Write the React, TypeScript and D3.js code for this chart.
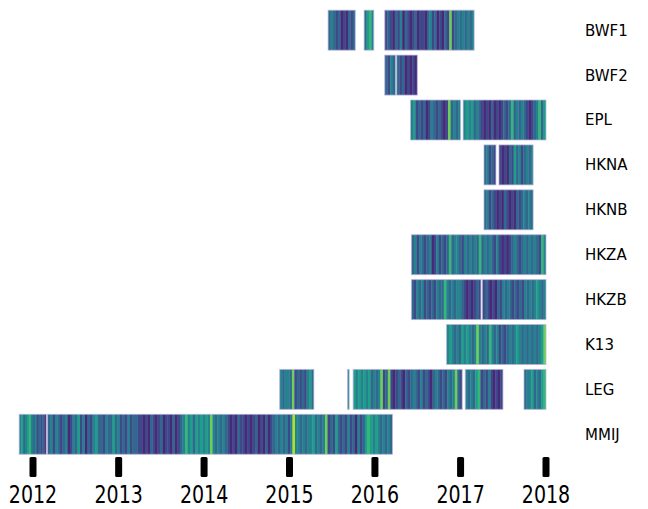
import React from "react";
import * as d3 from "d3";

// Row names (top to bottom)
const ROWS = ["BWF1", "BWF2", "EPL", "HKNA", "HKNB", "HKZA", "HKZB", "K13", "LEG", "MMIJ"];

// Year ticks
const YEARS = [2012, 2013, 2014, 2015, 2016, 2017, 2018];

// Segments per row: [start, end, values (0-9 digits, read left to right)]
const BWF1 = [
  ["2015-06-15", "2015-10-09", "34323121323"],
  ["2015-11-16", "2015-12-27", "3564"],
  ["2016-02-12", "2017-02-28", "232132413212312213423121327234343434"],
];
const BWF2 = [
  ["2016-02-12", "2016-03-29", "3243"],
  ["2016-04-03", "2016-06-30", "32312121"],
];
const EPL = [
  ["2016-06-01", "2017-01-01", "45232312432321273434"],
  ["2017-01-12", "2018-01-01", "454534321213121232363434321234635"],
];
const HKNA = [
  ["2017-04-11", "2017-06-01", "34232"],
  ["2017-06-14", "2017-11-07", "21213253423434"],
];
const HKNB = [
  ["2017-04-11", "2017-11-07", "34232121321213234343"],
];
const HKZA = [
  ["2016-06-05", "2018-01-01", "342432341242323634432434343634343242121234323434343264"],
];
const HKZB = [
  ["2016-06-05", "2017-03-29", "3243423232433643434432121232"],
  ["2017-04-04", "2018-01-01", "23212132434323232434345434"],
];
const K13 = [
  ["2016-11-02", "2018-01-01", "4543435454347434364342323434543434343457"],
];
const LEG = [
  ["2014-11-20", "2015-04-15", "43443723232453"],
  ["2015-09-06", "2015-09-13", "4"],
  ["2015-09-30", "2017-01-08", "54545453434723721232132343242321343232434732"],
  ["2017-01-21", "2017-07-01", "434356232421212"],
  ["2017-09-29", "2018-01-01", "344534356"],
];
const MMIJ = [
  ["2011-11-03", "2012-02-27", "45345643423231"],
  [
    "2012-03-03",
    "2016-03-16",
    "342432341" +
      "243524132453" +
      "3243353423242332" +
      "2121321231221312" +
      "346453" +
      "5454547" +
      "434343" +
      "212132212123121312" +
      "34343424" +
      "8" +
      "443434453434" +
      "7" +
      "232532324231423" +
      "56545" +
      "434343",
  ],
];

const SEGMENTS: Record<string, string[][]> = { BWF1, BWF2, EPL, HKNA, HKNB, HKZA, HKZB, K13, LEG, MMIJ };

const W = 648;
const H = 509;
const parse = d3.timeParse("%Y-%m-%d");

export default function App() {
  const x = d3
    .scaleTime()
    .domain([new Date(2012, 0, 1), new Date(2018, 0, 1)])
    .range([33, 546]);
  const y = d3
    .scaleBand<string>()
    .domain(ROWS)
    .range([7.75, 456.75])
    .paddingInner(0.11)
    .paddingOuter(0.055);
  const color = (d: number) => d3.interpolateViridis(d / 9);

  return (
    <svg
      width={W}
      height={H}
      style={{ position: "absolute", left: 0, top: 0, background: "#fff" }}
      fontFamily="'DejaVu Sans', sans-serif"
    >
      {ROWS.map((row) => {
        const y0 = y(row)!;
        const bh = y.bandwidth();
        return (
          <g key={row}>
            {SEGMENTS[row].map(([s, e, vals], si) => {
              const x0 = x(parse(s)!);
              const x1 = x(parse(e)!);
              const n = vals.length;
              const w = (x1 - x0) / n;
              return (
                <g key={si}>
                  {vals.split("").map((c, i) => (
                    <rect
                      key={i}
                      x={x0 + i * w}
                      y={y0}
                      width={i === n - 1 ? w : w + 0.35}
                      height={bh}
                      fill={color(+c)}
                    />
                  ))}
                  <rect
                    x={x0}
                    y={y0}
                    width={x1 - x0}
                    height={bh}
                    fill="none"
                    stroke="#bcb4da"
                    strokeOpacity={0.7}
                    strokeWidth={1}
                  />
                </g>
              );
            })}
            <text
              x={585}
              y={y0 + bh / 2}
              dy="0.36em"
              fontSize={15}
              fill="#000"
            >
              {row}
            </text>
          </g>
        );
      })}
      {YEARS.map((yr) => {
        const xx = x(new Date(yr, 0, 1));
        return (
          <g key={yr}>
            <rect x={xx - 3.5} y={457} width={7} height={20} rx={1.5} fill="#000" />
            <text
              transform={`translate(${xx},503) scale(0.95,1.2)`}
              textAnchor="middle"
              fontSize={20}
              fill="#000"
            >
              {yr}
            </text>
          </g>
        );
      })}
    </svg>
  );
}
